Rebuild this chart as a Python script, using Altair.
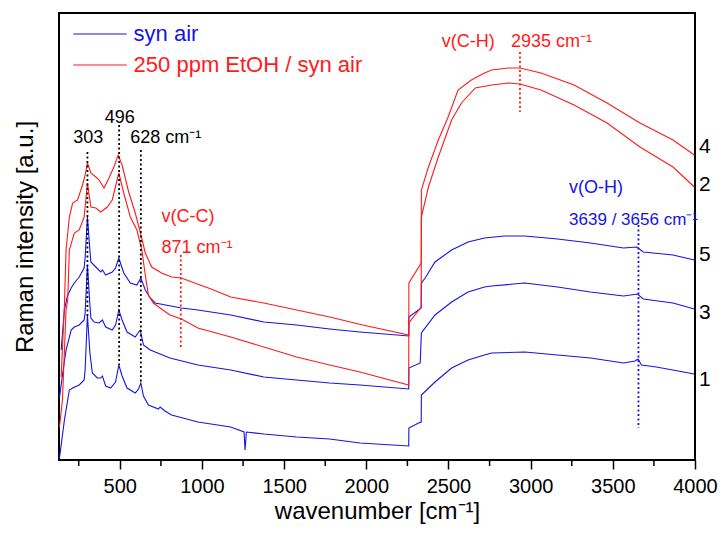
import altair as alt
import pandas as pd

FONT = "Liberation Sans"
BLUE = "#1414e6"
RED = "#ff1a1a"

# ---- spectra (wavenumber [cm-1], intensity [a.u.]) ----
c1_w = [133,163,193,213,253,283,289,303,318,333,363,384,394,414,444,474,494,514,544,594,
        614,628,644,674,735,745,775,815,975,1175,1256,1262,1270,1376,1576,1777,1961,2258,2259,2318,
        2334,2335,2418,2519,2619,2719,2763,2964,3164,3364,3565,3635,3653,3675,3765,3996]
c1_v = [2,40,70,72,75,80,90,145,107,87,82,82,84,74,72,78,95,84,72,67,
        71,77,64,55,51,53,49,45,38,33,28,10,28,26,23,21,17,14,32,37,
        38,65,78,92,100,105,107,108,105,102,97,99,101,95,93,86]

c3_w = [133,151,173,204,223,253,283,289,303,318,324,344,374,394,414,454,474,494,514,544,
        594,624,644,685,745,805,975,1175,1376,1576,1777,1961,2258,2259,2328,2335,2418,2519,2619,2719,
        2763,2964,3164,3364,3565,3650,3685,3866,3996]
c3_v = [62,85,110,130,133,135,140,147,195,155,142,138,137,140,133,130,135,150,140,128,
        123,130,115,110,106,102,95,90,83,80,77,75,71,92,97,127,145,158,168,173,
        174,177,173,168,164,166,161,157,151]

c5_w = [143,163,181,204,223,253,283,289,303,318,324,354,384,394,414,454,474,494,514,524,
        564,604,628,655,685,715,875,975,1175,1376,1576,1777,1961,2258,2259,2334,2335,2358,2418,2519,
        2619,2719,2839,2964,3164,3364,3565,3645,3685,3866,3996]
c5_v = [110,150,164,172,177,183,192,202,243,210,198,193,188,190,185,188,192,202,192,187,
        177,175,182,170,162,157,152,150,145,138,135,131,128,124,143,152,177,182,198,210,
        218,222,224,224,221,217,212,213,208,205,200]

c2_w = [133,151,173,183,193,223,253,283,303,324,354,384,424,454,494,524,564,604,634,655,
        674,704,745,805,875,975,1175,1376,1576,1777,1961,2258,2259,2334,2335,2378,2438,2519,2579,2663,
        2763,2863,2934,3063,3264,3465,3665,3866,3996]
c2_v = [33,60,150,160,210,227,230,243,277,253,252,248,253,260,287,267,243,230,210,185,
        165,157,152,145,141,132,123,113,103,95,88,75,177,197,243,273,303,340,357,372,
        375,377,376,370,355,337,313,293,273]

c4_w = [143,163,173,193,213,243,273,289,303,324,354,374,404,434,464,490,514,554,594,624,
        655,694,754,815,875,955,1055,1175,1376,1576,1777,1978,2258,2259,2334,2335,2378,2438,2498,2558,
        2639,2719,2763,2863,2934,3063,3264,3465,3665,3866,3996]
c4_v = [83,155,210,243,257,260,275,285,297,287,283,280,272,282,293,305,295,268,247,228,
        207,193,187,183,182,177,171,163,157,150,143,135,125,137,153,270,293,320,343,370,
        380,387,390,392,392,387,375,357,337,320,305]

curve_names = ["1", "3", "5", "2", "4"]
curve_colors = [BLUE, BLUE, BLUE, RED, RED]
curves = [(c1_w, c1_v), (c3_w, c3_v), (c5_w, c5_v), (c2_w, c2_v), (c4_w, c4_v)]

# ---- annotation data ----
mark_w = [303, 496, 628, 871, 2935, 3656]
mark_top = [308, 335, 310, 205, 408, 235]
mark_bot = [144, 95, 77, 113, 348, 32]
mark_col = ["black", "black", "black", RED, RED, BLUE]

lbl_text = ["628 cm⁻¹", "v(C-C)", "871 cm⁻¹", "v(C-H)", "2935 cm⁻¹", "v(O-H)", "3639 / 3656 cm⁻¹",
            "syn air", "250 ppm EtOH / syn air", "4", "2", "5", "3", "1"]
lbl_w = [564, 754, 754, 2459, 2880, 3234, 3234, 584, 584, 4024, 4024, 4024, 4024, 4024]
lbl_v = [322, 243, 212, 418, 418, 272, 240, 426, 395, 313, 275, 205, 147, 80]
lbl_col = ["black", RED, RED, RED, RED, BLUE, BLUE, BLUE, RED,
           "black", "black", "black", "black", "black"]
lbl_size = [18, 18, 18, 18, 18, 18, 17, 22, 22, 21, 21, 21, 21, 21]

ctr_text = ["303", "496"]
ctr_w = [308, 500]
ctr_v = [322, 342]

leg_w1 = [217, 217]
leg_w2 = [542, 542]
leg_v = [426, 395]
leg_col = [BLUE, RED]

major_ticks = [500, 1000, 1500, 2000, 2500, 3000, 3500, 4000]
minor_ticks = [250, 750, 1250, 1750, 2250, 2750, 3250, 3750]

# ---- frames ----
rows = []
for name, (ws, vs) in zip(curve_names, curves):
    for i, (w, v) in enumerate(zip(ws, vs)):
        rows.append({"curve": name, "w": w, "v": v, "i": i})
spec = pd.DataFrame(rows)

marks_df = pd.DataFrame({"w": mark_w, "v": mark_top, "v2": mark_bot, "c": mark_col})
lbl_df = pd.DataFrame({"t": lbl_text, "w": lbl_w, "v": lbl_v, "c": lbl_col, "s": lbl_size})
ctr_df = pd.DataFrame({"t": ctr_text, "w": ctr_w, "v": ctr_v})
leg_df = pd.DataFrame({"w": leg_w1, "w2": leg_w2, "v": leg_v, "c": leg_col})
minor_df = pd.DataFrame({"w": minor_ticks})

XS = alt.Scale(domain=[130, 4000], nice=False, zero=False)
YS = alt.Scale(domain=[0, 447], nice=False, zero=False)
XAX = alt.Axis(values=major_ticks, format="d", title="wavenumber [cm⁻¹]", grid=False, domain=False,
               tickSize=9, tickWidth=1.5, tickColor="black", labelFontSize=20, labelFont=FONT,
               labelColor="black", labelPadding=7, labelFlush=False, labelOverlap=False,
               titleFont=FONT, titleFontSize=24,
               titleFontWeight="normal", titleColor="black", titlePadding=3)
YAX = alt.Axis(labels=False, ticks=False, domain=False, grid=False, title="Raman intensity [a.u.]",
               titleFont=FONT, titleFontSize=24, titleFontWeight="normal", titleColor="black",
               titlePadding=22)

def X(f="w"):
    return alt.X(f"{f}:Q", scale=XS, axis=XAX)

def Y(f="v"):
    return alt.Y(f"{f}:Q", scale=YS, axis=YAX)

lines = alt.Chart(spec).mark_line(strokeWidth=1.1, clip=True).encode(
    x=X(), y=Y(),
    color=alt.Color("curve:N", scale=alt.Scale(domain=curve_names, range=curve_colors), legend=None),
    order="i:Q",
)

dotted = alt.Chart(marks_df).mark_rule(strokeDash=[2, 2.5], strokeWidth=1.8).encode(
    x=X(), y=Y(), y2="v2:Q", color=alt.Color("c:N", scale=None)
)

labels = alt.Chart(lbl_df).mark_text(align="left", baseline="middle", font=FONT).encode(
    x=X(), y=Y(), text="t:N", color=alt.Color("c:N", scale=None), size=alt.Size("s:Q", scale=None)
)

ctr = alt.Chart(ctr_df).mark_text(align="center", baseline="middle", font=FONT, fontSize=18,
                                  color="black").encode(x=X(), y=Y(), text="t:N")

leg = alt.Chart(leg_df).mark_rule(strokeWidth=1.2).encode(
    x=X(), x2="w2:Q", y=Y(), color=alt.Color("c:N", scale=None)
)

minor = alt.Chart(minor_df).mark_rule(strokeWidth=1.5, color="black").encode(
    x=X(), y=alt.value(447), y2=alt.value(453)
)

chart = alt.layer(lines, dotted, labels, ctr, leg, minor).properties(
    width=636, height=447,
    autosize=alt.AutoSizeParams(type="none"),
    padding={"left": 51, "top": 5, "right": 25, "bottom": 66},
).configure_view(stroke="black", strokeWidth=2)

chart.save("out.html", embed_options={"renderer": "svg", "actions": False})
